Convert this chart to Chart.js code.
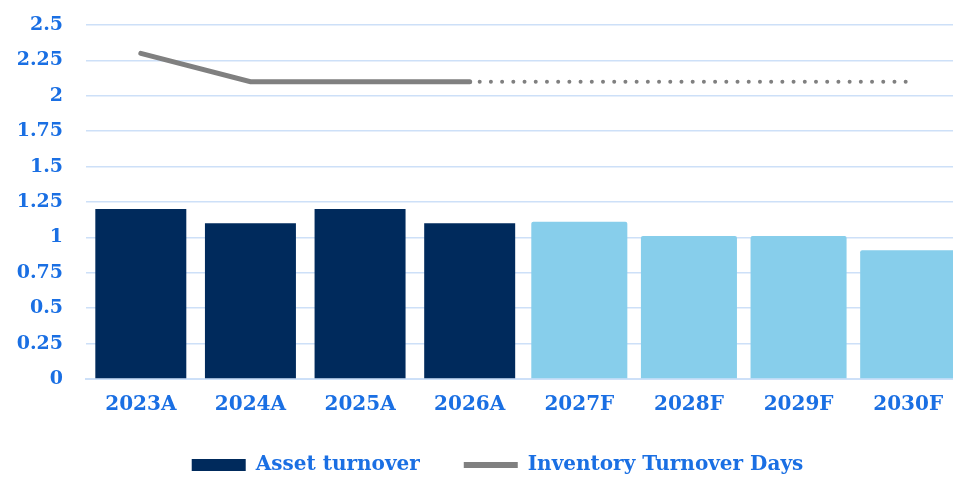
<!DOCTYPE html>
<html>
<head>
<meta charset="utf-8">
<script src="https://cdn.jsdelivr.net/npm/chart.js@4.4.1/dist/chart.umd.min.js"></script>
<style>
  html, body { margin: 0; padding: 0; background: #ffffff; overflow: hidden; }
  #wrap { position: relative; width: 963px; height: 478px; }
</style>
</head>
<body>
<div id="wrap"><canvas id="chart"></canvas></div>
<script>
// Fiscal years: actuals (A) and forecasts (F)
const categories = ['2023A', '2024A', '2025A', '2026A', '2027F', '2028F', '2029F', '2030F'];
const assetTurnoverActual = [1.2, 1.1, 1.2, 1.1, null, null, null, null];
const assetTurnoverForecast = [null, null, null, null, 1.11, 1.01, 1.01, 0.91];
const inventoryTurnoverDays = [2.3, 2.1, 2.1, 2.1, 2.1, 2.1, 2.1, 2.1];
const yTickLabels = ['0', '0.25', '0.5', '0.75', '1', '1.25', '1.5', '1.75', '2', '2.25', '2.5'];
const lastActualIndex = 3;

const blue = '#1a6fe3';
const navy = '#002a5c';
const sky = '#87ceeb';
const gray = '#808080';
const gridBlue = '#cde0f8';
const serif = '"DejaVu Serif", "Liberation Serif", serif';

// Nudge the legend row a little right of centre and extend its box upward
const legendShift = {
  id: 'legendShift',
  afterLayout(chart) {
    const lg = chart.legend;
    if (lg) {
      lg.left += 16; lg.right += 16;
      lg.top -= 18;
    }
  }
};

new Chart(document.getElementById('chart'), {
  data: {
    labels: categories,
    datasets: [
      {
        type: 'line',
        label: 'Inventory Turnover Days',
        data: inventoryTurnoverDays,
        borderColor: gray,
        backgroundColor: gray,
        borderWidth: 5,
        borderCapStyle: 'round',
        pointRadius: 0,
        pointHoverRadius: 0,
        tension: 0,
        order: 0,
        segment: {
          borderDash: ctx => ctx.p0DataIndex >= lastActualIndex ? [0.01, 11.2] : undefined,
          borderWidth: ctx => ctx.p0DataIndex >= lastActualIndex ? 4 : 5,
          borderDashOffset: ctx => ctx.p0DataIndex >= lastActualIndex ? -10 : 0
        }
      },
      {
        type: 'bar',
        label: 'Asset turnover',
        data: assetTurnoverActual,
        backgroundColor: navy,
        borderWidth: 0,
        barPercentage: 0.83,
        categoryPercentage: 1.0,
        order: 1
      },
      {
        type: 'bar',
        label: 'Asset turnover (forecast)',
        data: assetTurnoverForecast,
        backgroundColor: sky,
        borderWidth: 0,
        borderRadius: 2,
        borderSkipped: 'bottom',
        barPercentage: 0.876,
        categoryPercentage: 1.0,
        order: 1
      }
    ]
  },
  options: {
    responsive: true,
    maintainAspectRatio: false,
    animation: false,
    layout: { padding: { left: 0, right: 0, top: 25, bottom: 0 } },
    plugins: {
      tooltip: { enabled: false },
      legend: {
        position: 'bottom',
        maxHeight: 49,
        labels: {
          color: blue,
          font: { family: serif, weight: 'bold', size: 20 },
          usePointStyle: true,
          boxHeight: 12,
          pointStyleWidth: 54,
          padding: 44,
          generateLabels: () => [
            {
              text: 'Asset turnover',
              fillStyle: navy,
              strokeStyle: navy,
              lineWidth: 0,
              pointStyle: 'rect',
              fontColor: blue,
              datasetIndex: 1
            },
            {
              text: 'Inventory Turnover Days',
              fillStyle: gray,
              strokeStyle: gray,
              lineWidth: 6,
              pointStyle: 'line',
              fontColor: blue,
              datasetIndex: 0
            }
          ]
        }
      }
    },
    scales: {
      x: {
        stacked: true,
        grid: { display: false, drawTicks: false },
        border: { display: true, color: gridBlue, width: 2 },
        ticks: {
          color: blue,
          font: { family: serif, weight: 'bold', size: 20 },
          padding: 14
        },
        afterFit: s => { s.height = 50; }
      },
      y: {
        min: 0,
        max: 2.5,
        grid: { color: gridBlue, lineWidth: 1.5, drawTicks: false },
        border: { display: false },
        ticks: {
          stepSize: 0.25,
          color: blue,
          font: { family: serif, weight: 'bold', size: 19 },
          padding: 23,
          callback: (v, i) => yTickLabels[i]
        },
        afterFit: s => { s.width = 86; s.paddingTop = 0; s.paddingBottom = 0; }
      }
    }
  },
  plugins: [legendShift]
});
</script>
</body>
</html>
